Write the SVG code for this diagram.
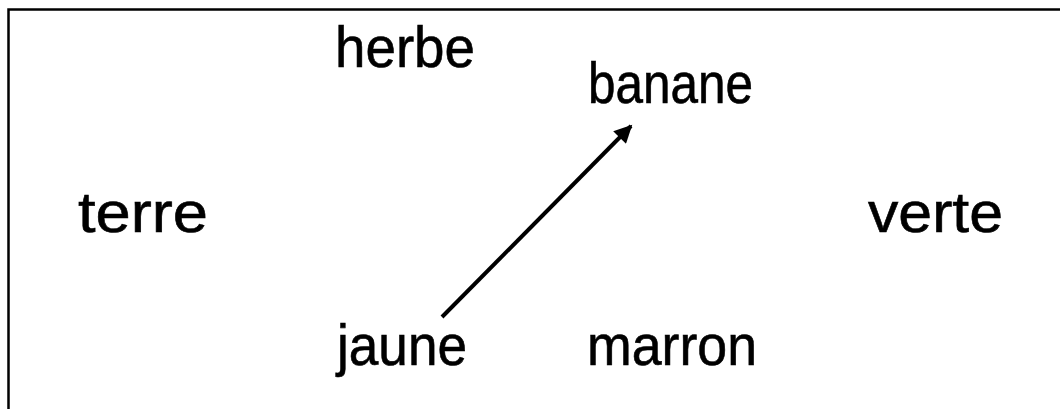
<svg xmlns="http://www.w3.org/2000/svg" width="1060" height="411" viewBox="0 0 1060 411">
<style>
.t{font-family:"Comic Sans MS","Liberation Sans",sans-serif;font-size:58px;fill:#000;stroke:#000;stroke-width:0.6}
.frame{fill:none;stroke:#000;stroke-width:2.5}
.conn{stroke:#000;stroke-width:4;fill:none}
</style>
<defs>
<marker id="ah" viewBox="0 0 10 10" refX="9" refY="5" markerWidth="5" markerHeight="4.5" orient="auto" markerUnits="strokeWidth">
<path d="M0,0 L10,5 L0,10 Z" fill="#000"/>
</marker>
</defs>
<rect width="1060" height="411" fill="#fff"/>
<path class="frame" d="M8.5,409 L8.5,9.5 L1060,9.5"/>
<g id="herbe"><text class="t" x="335" y="67" textLength="140" lengthAdjust="spacingAndGlyphs">herbe</text></g>
<g id="banane"><text class="t" x="588" y="103" textLength="165" lengthAdjust="spacingAndGlyphs">banane</text></g>
<g id="terre"><text class="t" x="78" y="232" textLength="130" lengthAdjust="spacingAndGlyphs">terre</text></g>
<g id="verte"><text class="t" x="868" y="232" textLength="135" lengthAdjust="spacingAndGlyphs">verte</text></g>
<g id="jaune"><text class="t" x="337" y="365" textLength="130" lengthAdjust="spacingAndGlyphs">jaune</text></g>
<g id="marron"><text class="t" x="587" y="365" textLength="170" lengthAdjust="spacingAndGlyphs">marron</text></g>
<g id="connectors">
<line class="conn" x1="442" y1="317" x2="631" y2="126" marker-end="url(#ah)"/>
</g>
</svg>
